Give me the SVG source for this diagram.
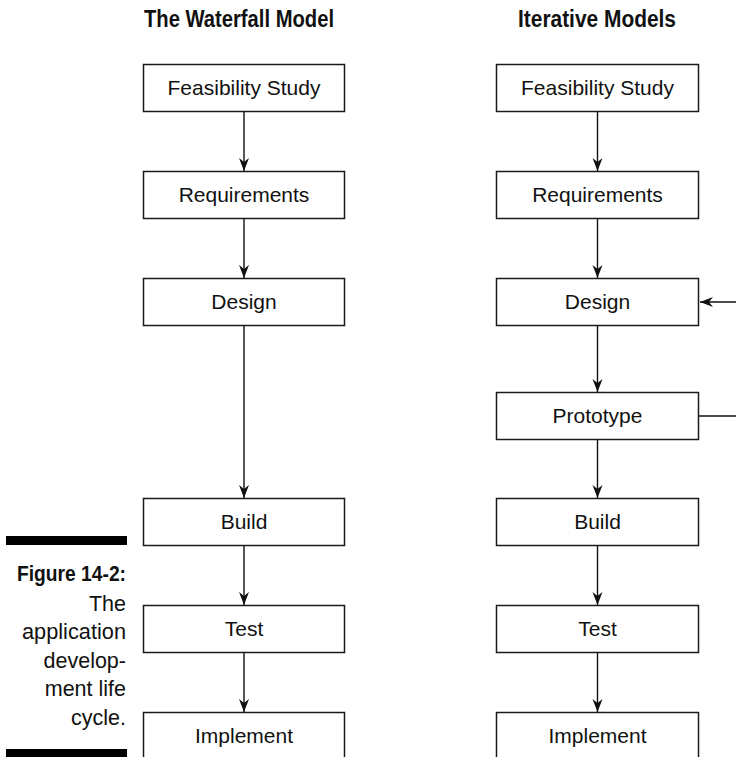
<svg xmlns="http://www.w3.org/2000/svg" width="736" height="757" viewBox="0 0 736 757">
<style>
.box{fill:#fff;stroke:#1a1a1a;stroke-width:1.5}
.lbl{font-family:"Liberation Sans",Arial,sans-serif;font-size:21px;fill:#111;text-anchor:middle}
.title{font-family:"Liberation Sans",Arial,sans-serif;font-size:23px;font-weight:bold;fill:#111;text-anchor:middle}
.cap{font-family:"Liberation Sans",Arial,sans-serif;font-size:21.5px;fill:#111;text-anchor:end}
.capb{font-family:"Liberation Sans",Arial,sans-serif;font-size:21.5px;font-weight:bold;fill:#111;text-anchor:end}
.con{fill:none;stroke:#111;stroke-width:1.4;marker-end:url(#arr)}
.conn{fill:none;stroke:#111;stroke-width:1.4}
</style>
<defs>
<marker id="arr" markerUnits="userSpaceOnUse" markerWidth="16" markerHeight="12" viewBox="-13 -6 14 12" refX="0" refY="0" orient="auto">
<path d="M0,0 L-13,-5 L-9,0 L-13,5 Z" fill="#111"/>
</marker>
</defs>
<rect width="736" height="757" fill="#fff"/>
<text class="title" x="239" y="27" textLength="190" lengthAdjust="spacingAndGlyphs">The Waterfall Model</text>
<text class="title" x="597" y="27" textLength="158" lengthAdjust="spacingAndGlyphs">Iterative Models</text>
<g id="caption">
<rect x="6" y="536" width="121" height="9" fill="#000"/>
<rect x="6" y="749" width="121" height="8" fill="#000"/>
<text class="capb" x="126" y="581" textLength="109" lengthAdjust="spacingAndGlyphs">Figure 14-2:</text>
<text class="cap" x="126" y="611">The</text>
<text class="cap" x="126" y="639" textLength="104" lengthAdjust="spacingAndGlyphs">application</text>
<text class="cap" x="126" y="668">develop-</text>
<text class="cap" x="126" y="696">ment life</text>
<text class="cap" x="126" y="725">cycle.</text>
</g>
<g id="connectors">
<line class="con" x1="244" y1="111" x2="244" y2="171"/>
<line class="con" x1="244" y1="218" x2="244" y2="278"/>
<line class="con" x1="244" y1="325" x2="244" y2="498"/>
<line class="con" x1="244" y1="545" x2="244" y2="605"/>
<line class="con" x1="244" y1="652" x2="244" y2="712"/>
<line class="con" x1="597.5" y1="111" x2="597.5" y2="171"/>
<line class="con" x1="597.5" y1="218" x2="597.5" y2="278"/>
<line class="con" x1="597.5" y1="325" x2="597.5" y2="392"/>
<line class="con" x1="597.5" y1="439" x2="597.5" y2="498"/>
<line class="con" x1="597.5" y1="545" x2="597.5" y2="605"/>
<line class="con" x1="597.5" y1="652" x2="597.5" y2="712"/>
<line class="con" x1="737" y1="302" x2="700" y2="302"/>
<line class="conn" x1="699" y1="416" x2="737" y2="416"/>
</g>
<g id="w-feasibility"><rect class="box" x="143.5" y="64.5" width="201" height="47"/><text class="lbl" x="244" y="95">Feasibility Study</text></g>
<g id="w-requirements"><rect class="box" x="143.5" y="171.5" width="201" height="47"/><text class="lbl" x="244" y="202">Requirements</text></g>
<g id="w-design"><rect class="box" x="143.5" y="278.5" width="201" height="47"/><text class="lbl" x="244" y="309">Design</text></g>
<g id="w-build"><rect class="box" x="143.5" y="498.5" width="201" height="47"/><text class="lbl" x="244" y="529">Build</text></g>
<g id="w-test"><rect class="box" x="143.5" y="605.5" width="201" height="47"/><text class="lbl" x="244" y="636">Test</text></g>
<g id="w-implement"><rect class="box" x="143.5" y="712.5" width="201" height="47"/><text class="lbl" x="244" y="743">Implement</text></g>
<g id="i-feasibility"><rect class="box" x="496.5" y="64.5" width="202" height="47"/><text class="lbl" x="597.5" y="95">Feasibility Study</text></g>
<g id="i-requirements"><rect class="box" x="496.5" y="171.5" width="202" height="47"/><text class="lbl" x="597.5" y="202">Requirements</text></g>
<g id="i-design"><rect class="box" x="496.5" y="278.5" width="202" height="47"/><text class="lbl" x="597.5" y="309">Design</text></g>
<g id="i-prototype"><rect class="box" x="496.5" y="392.5" width="202" height="47"/><text class="lbl" x="597.5" y="423">Prototype</text></g>
<g id="i-build"><rect class="box" x="496.5" y="498.5" width="202" height="47"/><text class="lbl" x="597.5" y="529">Build</text></g>
<g id="i-test"><rect class="box" x="496.5" y="605.5" width="202" height="47"/><text class="lbl" x="597.5" y="636">Test</text></g>
<g id="i-implement"><rect class="box" x="496.5" y="712.5" width="202" height="47"/><text class="lbl" x="597.5" y="743">Implement</text></g>
</svg>
